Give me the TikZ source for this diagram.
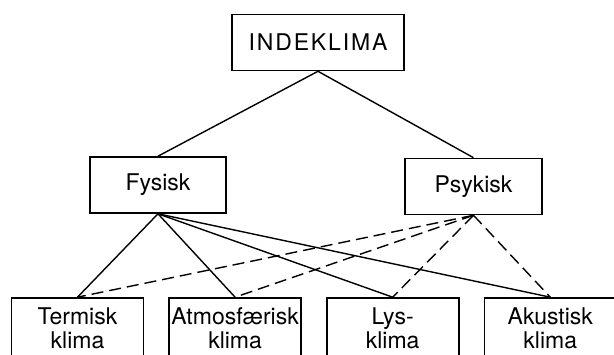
\documentclass[tikz,border=0pt]{standalone}
\usepackage{fontspec}
\setmainfont{TeX Gyre Heros}
\usepackage{tikz}
\usetikzlibrary{positioning}

\begin{document}
\begin{tikzpicture}[x=1pt, y=1pt, every node/.style={font=\fontsize{23}{24}\selectfont},
    box/.style={draw, line width=1.6pt, minimum height=56pt, inner sep=2pt},
    leaf/.style={box, minimum width=132pt, minimum height=60pt, align=center},
    link/.style={line width=1.4pt},
    psylink/.style={link, dash pattern=on 12pt off 6pt}]
    \useasboundingbox (0,0) rectangle (614,355);
    % top level
    \node[box, minimum width=172pt] (inde) at (318,312.5) {\addfontfeature{LetterSpace=8}INDEKLIMA};
    \node[box, minimum width=136pt] (fys) at (158,170) {Fysisk};
    \node[box, minimum width=137pt] (psy) at (473.5,168.5) {Psykisk};
    % bottom row
    \node[leaf] (term) at (77.5,27) {Termisk\\klima};
    \node[leaf, right=24pt of term] (atmo) {Atmosf\ae risk\\klima};
    \node[leaf, right=24pt of atmo] (lys) {Lys-\\klima};
    \node[leaf, right=24pt of lys] (aku) {Akustisk\\klima};
    % connectors
    \draw[link] (inde.south) -- (fys.north);
    \draw[link] (inde.south) -- (psy.north);
    \foreach \leafname in {term, atmo, lys, aku} {
      \draw[link] (fys.south) -- (\leafname.north);
      \draw[psylink] (psy.south) -- (\leafname.north);
    }
  \end{tikzpicture}
\end{document}
